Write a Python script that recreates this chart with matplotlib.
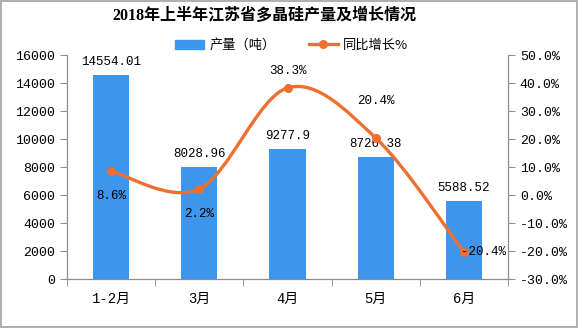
import numpy as np
import matplotlib.pyplot as plt
from matplotlib.path import Path
from matplotlib.patches import PathPatch, Patch
from matplotlib.lines import Line2D

plt.rcParams['font.family'] = ['Liberation Mono', 'Noto Sans CJK SC', 'DejaVu Sans']

months = ['1-2月', '3月', '4月', '5月', '6月']
output_t = [14554.01, 8028.96, 9277.9, 8726.38, 5588.52]
growth_pct = [8.6, 2.2, 38.3, 20.4, -20.4]
output_labels = ['14554.01', '8028.96', '9277.9', '8726.38', '5588.52']

bar_color = '#3d95ec'
line_color = '#ed7031'
axis_color = '#8c8c8c'


def smooth_path(xs, ys):
    '''Excel-style smoothed line as cubic bezier through the points'''
    pts = np.column_stack([xs, ys]).astype(float)
    verts = [pts[0]]
    codes = [Path.MOVETO]
    n = len(pts)
    for i in range(n - 1):
        p0 = pts[max(i - 1, 0)]
        p1 = pts[i]
        p2 = pts[i + 1]
        p3 = pts[min(i + 2, n - 1)]
        c1 = p1 + (p2 - p0) / 6.0
        c2 = p2 - (p3 - p1) / 6.0
        verts += [c1, c2, p2]
        codes += [Path.CURVE4] * 3
    return Path(verts, codes)


fig = plt.figure(figsize=(5.78, 3.28), dpi=100)
fig.patch.set_edgecolor('#b0b0b0')
fig.patch.set_linewidth(1.5)
ax = fig.add_axes([0.116, 0.149, 0.763, 0.683])
ax2 = ax.twinx()

x = np.arange(len(months))
ax.bar(x, output_t, width=0.41, color=bar_color, zorder=2)
for xi, v, lab in zip(x, output_t, output_labels):
    ax.annotate(lab, (xi, v), xytext=(0, 5), textcoords='offset points',
                ha='center', va='bottom', fontsize=9)

ax.set_xlim(-0.5, len(months) - 0.5)
ax.set_ylim(0, 16000)
ax.set_yticks(np.arange(0, 16001, 2000))
ax.set_xticks(x)
ax.set_xticklabels(months, fontsize=10)
ax.set_xticks(np.arange(-0.5, len(months), 1), minor=True)
ax.tick_params(axis='x', which='major', length=0, pad=9)
ax.tick_params(axis='x', which='minor', length=5, color=axis_color, direction='out')
ax.tick_params(axis='y', labelsize=9.5, length=5, color=axis_color, direction='out')

ax2.set_ylim(-30, 50)
ax2.set_yticks(np.arange(-30, 51, 10))
ax2.set_yticklabels(['%.1f%%' % t for t in np.arange(-30, 51, 10)])
ax2.tick_params(axis='y', labelsize=9.5, length=5, color=axis_color, direction='out')

for a in (ax, ax2):
    a.spines['top'].set_visible(False)
    for s in ('left', 'right', 'bottom'):
        a.spines[s].set_color(axis_color)

ax2.add_patch(PathPatch(smooth_path(x, growth_pct), facecolor='none',
                        edgecolor=line_color, lw=2.4, zorder=3))
ax2.plot(x, growth_pct, 'o', color=line_color, ms=5.5, zorder=4)

offsets = [(0, -14), (0, -14), (0, 8), (0, 22), (14, 0)]
for xi, v, off in zip(x, growth_pct, offsets):
    va = 'top' if off[1] < 0 else ('bottom' if off[1] > 0 else 'center')
    ax2.annotate('%.1f%%' % v, (xi, v), xytext=off, textcoords='offset points',
                 ha='center', va=va, fontsize=9, zorder=5)

fig.text(0.458, 0.95, '2018年上半年江苏省多晶硅产量及增长情况', ha='center',
         va='center', fontsize=11.5, fontweight='bold',
         family=['Liberation Serif', 'Noto Sans CJK SC'])

handles = [Patch(color=bar_color),
           Line2D([], [], color=line_color, lw=2.4, marker='o', ms=5.5)]
fig.legend(handles, ['产量（吨）', '同比增长%'], loc='center',
           bbox_to_anchor=(0.505, 0.862), ncol=2, frameon=False,
           handlelength=2.2, columnspacing=2.5, handletextpad=0.4,
           prop={'family': ['Noto Sans CJK SC', 'DejaVu Sans'], 'size': 9.5})

fig.savefig('out.png', dpi=100)
